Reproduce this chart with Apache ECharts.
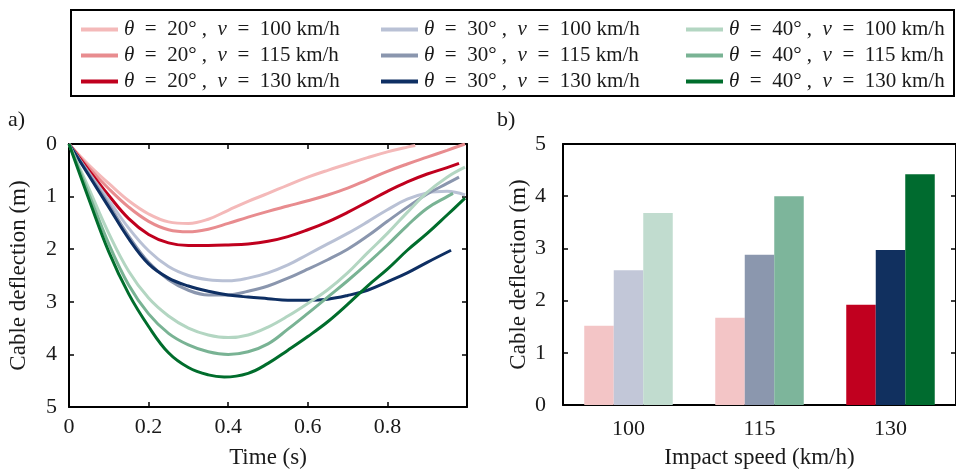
<!DOCTYPE html>
<html><head><meta charset="utf-8">
<script src="https://cdn.jsdelivr.net/npm/echarts@6/dist/echarts.min.js"></script>
<style>html,body{margin:0;padding:0;background:#fff}#c{width:956px;height:474px}</style>
</head><body><div id="c"></div>
<script>
// ---- Data ----
const xTicks = [0, 0.2, 0.4, 0.6, 0.8];
const yTicks = [0, 1, 2, 3, 4, 5];
// time-history curves [time (s), deflection (m)]
const r100 = [[0,0],[0.05,0.4],[0.1,0.75],[0.15,1.08],[0.2,1.33],[0.25,1.48],[0.3,1.51],[0.35,1.43],[0.4,1.26],[0.45,1.09],[0.5,0.94],[0.55,0.78],[0.6,0.63],[0.65,0.5],[0.7,0.38],[0.75,0.26],[0.8,0.15],[0.85,0.06],[0.87,0.03]];
const r115 = [[0,0],[0.05,0.45],[0.1,0.85],[0.15,1.2],[0.2,1.47],[0.25,1.63],[0.3,1.67],[0.35,1.62],[0.4,1.51],[0.45,1.39],[0.5,1.28],[0.55,1.18],[0.6,1.08],[0.65,0.97],[0.7,0.84],[0.75,0.68],[0.8,0.52],[0.85,0.38],[0.9,0.25],[0.95,0.12],[0.995,0.0]];
const r130 = [[0,0],[0.05,0.5],[0.1,0.98],[0.15,1.42],[0.2,1.72],[0.25,1.88],[0.3,1.93],[0.35,1.93],[0.4,1.92],[0.45,1.9],[0.5,1.85],[0.55,1.76],[0.6,1.63],[0.65,1.48],[0.7,1.3],[0.75,1.1],[0.8,0.9],[0.85,0.72],[0.9,0.57],[0.95,0.45],[0.98,0.37]];
const b100 = [[0,0],[0.05,0.55],[0.1,1.07],[0.15,1.6],[0.2,2.03],[0.25,2.33],[0.3,2.5],[0.35,2.58],[0.4,2.6],[0.45,2.55],[0.5,2.45],[0.55,2.3],[0.6,2.1],[0.65,1.9],[0.7,1.7],[0.75,1.48],[0.8,1.25],[0.85,1.05],[0.9,0.93],[0.95,0.9],[0.995,0.97]];
const b115 = [[0,0],[0.05,0.57],[0.1,1.15],[0.15,1.75],[0.2,2.25],[0.25,2.58],[0.3,2.78],[0.35,2.87],[0.4,2.87],[0.45,2.8],[0.5,2.7],[0.55,2.55],[0.6,2.38],[0.65,2.2],[0.7,2.0],[0.75,1.75],[0.8,1.47],[0.85,1.2],[0.9,0.95],[0.95,0.75],[0.98,0.63]];
const b130 = [[0,0],[0.05,0.6],[0.1,1.2],[0.15,1.8],[0.2,2.28],[0.25,2.55],[0.3,2.7],[0.35,2.8],[0.4,2.87],[0.45,2.91],[0.5,2.94],[0.55,2.97],[0.6,2.97],[0.65,2.95],[0.7,2.88],[0.75,2.78],[0.8,2.62],[0.85,2.45],[0.9,2.25],[0.96,2.02]];
const g100 = [[0,0],[0.05,0.85],[0.1,1.7],[0.15,2.42],[0.2,2.93],[0.25,3.27],[0.3,3.5],[0.35,3.63],[0.4,3.68],[0.45,3.63],[0.5,3.48],[0.55,3.27],[0.6,3.03],[0.65,2.77],[0.7,2.45],[0.75,2.07],[0.8,1.7],[0.85,1.3],[0.9,0.92],[0.95,0.63],[0.995,0.44]];
const g115 = [[0,0],[0.05,0.95],[0.1,1.9],[0.15,2.68],[0.2,3.23],[0.25,3.6],[0.3,3.82],[0.35,3.95],[0.4,4.0],[0.45,3.95],[0.5,3.8],[0.55,3.52],[0.6,3.22],[0.65,2.91],[0.7,2.6],[0.75,2.27],[0.8,1.92],[0.85,1.55],[0.9,1.22],[0.95,1.0],[0.965,0.94]];
const g130 = [[0,0],[0.05,1.05],[0.1,2.05],[0.15,2.85],[0.2,3.47],[0.25,3.97],[0.3,4.25],[0.35,4.39],[0.39,4.43],[0.45,4.36],[0.5,4.17],[0.55,3.92],[0.6,3.66],[0.65,3.38],[0.7,3.05],[0.75,2.7],[0.8,2.38],[0.85,2.02],[0.9,1.7],[0.95,1.35],[0.995,1.03]];
// bar chart: max deflection by impact speed
const speeds = ['100', '115', '130'];
const bar20 = [1.52, 1.67, 1.92];
const bar30 = [2.58, 2.88, 2.97];
const bar40 = [3.68, 4.0, 4.42];
// legend entries
const angles = ['20', '30', '40'];
const speedLabels = ['100', '115', '130'];

// ---- Styles ----
const lineColors = {
  '20|100': '#f4b9b9', '20|115': '#e88c8f', '20|130': '#c0001e',
  '30|100': '#b9c1d5', '30|115': '#8a96ae', '30|130': '#0e2f63',
  '40|100': '#b3d6c2', '40|115': '#79b394', '40|130': '#006d2c'
};
const curves = {
  '20|100': r100, '20|115': r115, '20|130': r130,
  '30|100': b100, '30|115': b115, '30|130': b130,
  '40|100': g100, '40|115': g115, '40|130': g130
};
const barColors = {
  20: ['#f3c5c6', '#f3c5c6', '#c1001f'],
  30: ['#c2c7d8', '#8b97ae', '#11305f'],
  40: ['#c1dccf', '#7db59b', '#006b2f']
};
const FONT = 'Liberation Serif';
const TXT = '#1a1a1a';

const chart = echarts.init(document.getElementById('c'), null, {renderer: 'canvas'});

const G1 = {left: 69, top: 144, width: 398, height: 267};
const G2 = {left: 563, top: 144, width: 402, height: 267};

const axisLine = {show: true, onZero: false, lineStyle: {color: '#000', width: 2}};
const tickIn = {show: true, inside: true, length: 5, lineStyle: {color: '#000', width: 1.5}};
const lbl = {color: TXT, fontFamily: FONT, fontSize: 22};
const nameStyle = {color: TXT, fontFamily: FONT, fontSize: 23};

const series = [];
const legends = [];
angles.forEach((a, ai) => {
  const data = [];
  speedLabels.forEach(s => {
    const key = a + '|' + s;
    series.push({
      name: key, type: 'line', xAxisIndex: 0, yAxisIndex: 0,
      data: curves[key], showSymbol: false, smooth: 0.4,
      color: lineColors[key],
      lineStyle: {width: 3, color: lineColors[key]},
      z: 2 + ai
    });
    data.push({name: key, icon: 'rect', itemStyle: {color: lineColors[key]}});
  });
  legends.push({
    data: data, orient: 'vertical', left: [76, 376, 681][ai], top: 14,
    itemWidth: 37, itemHeight: 4, itemGap: 5, selectedMode: false,
    formatter: name => {
      const p = name.split('|');
      return '{i|θ}  =  ' + p[0] + '° ,  {i|v}  =  ' + p[1] + ' km/h';
    },
    textStyle: {
      color: TXT, fontFamily: FONT, fontSize: 21, lineHeight: 20, padding: [0, 0, 0, 1],
      rich: {i: {fontStyle: 'italic', fontFamily: FONT, fontSize: 21, color: TXT}}
    }
  });
});

const barSeries = [[20, bar20], [30, bar30], [40, bar40]].map(([a, vals]) => ({
  name: 'bar' + a, type: 'bar', xAxisIndex: 2, yAxisIndex: 2,
  barWidth: 29.5, barGap: '0%',
  data: vals.map((v, i) => ({value: v, itemStyle: {color: barColors[a][i]}}))
}));

chart.setOption({
  animation: false,
  textStyle: {fontFamily: FONT},
  grid: [G1, G2],
  legend: legends,
  graphic: [
    {type: 'rect', shape: {x: 71, y: 10, width: 883, height: 86}, style: {fill: 'none', stroke: '#000', lineWidth: 2}, z: 100},
    {type: 'text', left: 8, top: 109, style: {text: 'a)', font: '22px "Liberation Serif"', fill: TXT}},
    {type: 'text', left: 497, top: 109, style: {text: 'b)', font: '22px "Liberation Serif"', fill: TXT}}
  ],
  xAxis: [
    {gridIndex: 0, type: 'value', min: 0, max: 1, interval: 0.2, position: 'bottom',
     axisLine: axisLine, axisTick: tickIn, splitLine: {show: false},
     axisLabel: Object.assign({}, lbl, {margin: 9, formatter: v => (xTicks.indexOf(v) >= 0 ? String(v) : '')}),
     name: 'Time (s)', nameLocation: 'middle', nameGap: 39, nameTextStyle: nameStyle},
    {gridIndex: 0, type: 'value', min: 0, max: 1, interval: 0.2, position: 'top',
     axisLine: axisLine, axisTick: tickIn, splitLine: {show: false}, axisLabel: {show: false}},
    {gridIndex: 1, type: 'category', data: speeds, position: 'bottom',
     axisLine: axisLine, axisTick: {show: false}, splitLine: {show: false},
     axisLabel: Object.assign({}, lbl, {margin: 13}),
     name: 'Impact speed (km/h)', nameLocation: 'middle', nameGap: 41, nameTextStyle: nameStyle},
    {gridIndex: 1, type: 'category', data: speeds, position: 'top',
     axisLine: axisLine, axisTick: {show: false}, axisLabel: {show: false}}
  ],
  yAxis: [
    {gridIndex: 0, type: 'value', min: 0, max: 5, interval: 1, inverse: true, position: 'left',
     axisLine: axisLine, axisTick: tickIn, splitLine: {show: false},
     axisLabel: Object.assign({}, lbl, {margin: 12, formatter: v => (yTicks.indexOf(v) >= 0 ? String(v) : '')}),
     name: 'Cable deflection (m)', nameLocation: 'middle', nameGap: 39, nameTextStyle: nameStyle},
    {gridIndex: 0, type: 'value', min: 0, max: 5, interval: 1, inverse: true, position: 'right',
     axisLine: axisLine, axisTick: tickIn, splitLine: {show: false}, axisLabel: {show: false}},
    {gridIndex: 1, type: 'value', min: 0, max: 5, interval: 1, position: 'left',
     axisLine: axisLine, axisTick: tickIn, splitLine: {show: false},
     axisLabel: Object.assign({}, lbl, {margin: 17, formatter: v => (yTicks.indexOf(v) >= 0 ? String(v) : '')}),
     name: 'Cable deflection (m)', nameLocation: 'middle', nameGap: 33, nameTextStyle: nameStyle},
    {gridIndex: 1, type: 'value', min: 0, max: 5, interval: 1, position: 'right',
     axisLine: axisLine, axisTick: tickIn, splitLine: {show: false}, axisLabel: {show: false}}
  ],
  series: series.concat(barSeries)
});
</script>
</body></html>
